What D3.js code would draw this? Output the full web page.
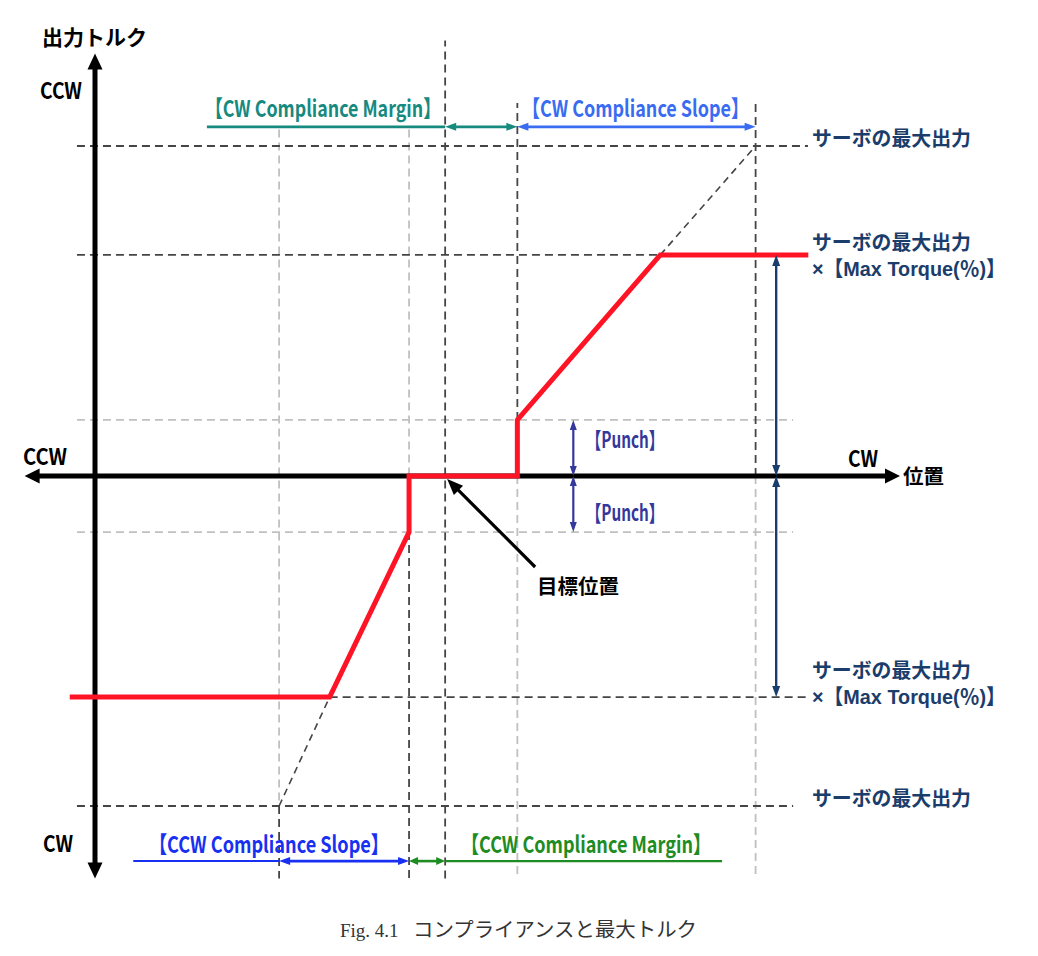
<!DOCTYPE html>
<html><head><meta charset="utf-8">
<script src="https://cdn.jsdelivr.net/npm/d3@7"></script>
<style>
body{margin:0;background:#fff}
svg{display:block}
text{font-family:'Noto Sans CJK JP','Noto Sans',sans-serif}
</style>
</head><body>
<svg id="c" width="1038" height="956"></svg>
<script>
// ---------- data (position units, torque in % of servo max output) ----------
const positionNames  = ["ccwSlopeEnd", "ccwMargin", "target", "cwMargin", "cwSlopeEnd"];
const positionValues = [-46, -10, 0, 20, 86];
const torqueNames  = ["-max", "-maxTorque", "-punch", "zero", "punch", "maxTorque", "max"];
const torqueValues = [-100, -67, -17, 0, 17, 67, 100];
// red output-torque curve
const outputPos    = [-104, -32, -10, -10, 20, 20, 59.6, 100.6];
const outputTorque = [-67, -67, -17, 0, 0, 17, 67, 67];
// slope extension (dashed diagonal)
const slopeGuidePos    = [[-46, -32], [59.6, 86]];
const slopeGuideTorque = [[-100, -67], [67, 100]];
// horizontal guide lines
const darkHTorque = [100, 67, -67, -100];
const darkHFrom   = [-102, -102, -32, -102];
const darkHTo     = [100.5, 59.6, 100.6, 96.4];
const lightHTorque = [17, -17];
const lightHFrom   = [-102, -102];
const lightHTo     = [96.4, 96.4];
// vertical guide lines
const darkVPos  = [-46, -10, 0, 20, 86];
const darkVFrom = [-100, -17, -122, 17, 0];
const darkVTo   = [-122, -122, 132, 113, 113];
const lightVPos  = [-46, -10, 20, 86];
const lightVFrom = [105, 105, 0, 0];
const lightVTo   = [-100, 0, -122, -122];
// labels
const axisTitle = "出力トルク";
const axisLabelX = "位置";
const targetLabel = "目標位置";
const servoMaxLabel = "サーボの最大出力";
const maxTorqueLabel = "×【Max Torque(％)】";
const punchLabel = "【Punch】";
const spanLabels = ["【CW Compliance Margin】", "【CW Compliance Slope】", "【CCW Compliance Slope】", "【CCW Compliance Margin】"];
const captionFig = "Fig. 4.1";
const captionText = "コンプライアンスと最大トルク";

// ---------- scales ----------
const x = d3.scaleLinear().domain([-97, 126]).range([95, 900]);
const y = d3.scaleLinear().domain([-100, 100]).range([806, 146]);
const P = n => positionValues[positionNames.indexOf(n)];
const T = n => torqueValues[torqueNames.indexOf(n)];

const svg = d3.select("#c");
const g = svg.append("g");

const DARK = "#454545", LIGHT = "#c0c0c0", DASH = "8,5";

function hline(t, a, b, color) {
  g.append("line").attr("x1", x(a)).attr("x2", x(b)).attr("y1", y(t)).attr("y2", y(t))
    .attr("stroke", color).attr("stroke-width", 1.8).attr("stroke-dasharray", DASH);
}
function vline(p, a, b, color) {
  g.append("line").attr("x1", x(p)).attr("x2", x(p)).attr("y1", y(a)).attr("y2", y(b))
    .attr("stroke", color).attr("stroke-width", 1.8).attr("stroke-dasharray", DASH);
}
lightHTorque.forEach((t, i) => hline(t, lightHFrom[i], lightHTo[i], LIGHT));
lightVPos.forEach((p, i) => vline(p, lightVFrom[i], lightVTo[i], LIGHT));
darkHTorque.forEach((t, i) => hline(t, darkHFrom[i], darkHTo[i], DARK));
darkVPos.forEach((p, i) => vline(p, darkVFrom[i], darkVTo[i], DARK));

// slope extension
slopeGuidePos.forEach((ps, i) => {
  g.append("line").attr("x1", x(ps[0])).attr("x2", x(ps[1]))
    .attr("y1", y(slopeGuideTorque[i][0])).attr("y2", y(slopeGuideTorque[i][1]))
    .attr("stroke", DARK).attr("stroke-width", 1.6).attr("stroke-dasharray", "7,5");
});

// arrow helper
function arrowLine(p1, p2, o) {
  const dx = p2[0] - p1[0], dy = p2[1] - p1[1], L = Math.hypot(dx, dy), ux = dx / L, uy = dy / L;
  const s = o.start ? o.hl * 0.7 : 0, e = o.end ? o.hl * 0.7 : 0;
  g.append("line").attr("x1", p1[0] + ux * s).attr("y1", p1[1] + uy * s)
    .attr("x2", p2[0] - ux * e).attr("y2", p2[1] - uy * e)
    .attr("stroke", o.color).attr("stroke-width", o.w);
  const head = (tip, ax, ay) => {
    const bx = tip[0] - ax * o.hl, by = tip[1] - ay * o.hl, px = -ay * o.hw / 2, py = ax * o.hw / 2;
    g.append("path").attr("d", `M${tip[0]},${tip[1]}L${bx + px},${by + py}L${bx - px},${by - py}Z`).attr("fill", o.color);
  };
  if (o.end) head(p2, ux, uy);
  if (o.start) head(p1, -ux, -uy);
}

// axes
arrowLine([x(-97), y(-122)], [x(-97), y(128)], {color: "#000", w: 5, hl: 16, hw: 15, start: true, end: true});
arrowLine([x(-116.5), y(0)], [x(126), y(0)], {color: "#000", w: 5, hl: 15, hw: 15, start: true, end: true});

// red output curve
const line = d3.line().x((d, i) => x(outputPos[i])).y((d, i) => y(outputTorque[i]));
g.append("path").attr("d", line(outputPos)).attr("fill", "none")
  .attr("stroke", "#ff1426").attr("stroke-width", 5).attr("stroke-linejoin", "miter");

// compliance span annotations
const topY = y(105.8), botY = y(-116.7);
const TEAL = "#178a80", LBLUE = "#3a6cf2", BLUE = "#1830f2", GREEN = "#1e8c22";
g.append("line").attr("x1", x(-66)).attr("x2", x(P("target"))).attr("y1", topY).attr("y2", topY).attr("stroke", TEAL).attr("stroke-width", 2.6);
arrowLine([x(P("target")), topY], [x(P("cwMargin")), topY], {color: TEAL, w: 2.6, hl: 11, hw: 8, start: true, end: true});
arrowLine([x(P("cwMargin")), topY], [x(P("cwSlopeEnd")), topY], {color: LBLUE, w: 2.6, hl: 11, hw: 8, start: true, end: true});
g.append("line").attr("x1", x(-86.4)).attr("x2", x(P("ccwSlopeEnd"))).attr("y1", botY).attr("y2", botY).attr("stroke", BLUE).attr("stroke-width", 2);
arrowLine([x(P("ccwSlopeEnd")), botY], [x(P("ccwMargin")), botY], {color: BLUE, w: 2.6, hl: 11, hw: 8, start: true, end: true});
arrowLine([x(P("ccwMargin")), botY], [x(P("target")), botY], {color: GREEN, w: 2.6, hl: 9, hw: 8, start: true, end: true});
g.append("line").attr("x1", x(P("target"))).attr("x2", x(76.7)).attr("y1", botY).attr("y2", botY).attr("stroke", GREEN).attr("stroke-width", 2.4);

// max torque arrows (navy) and punch arrows (indigo)
const NAVY = "#1b3d6b", INDIGO = "#34379c";
arrowLine([x(91.7), y(0)], [x(91.7), y(T("maxTorque"))], {color: NAVY, w: 2.4, hl: 11, hw: 8, start: true, end: true});
arrowLine([x(91.7), y(0)], [x(91.7), y(T("-maxTorque"))], {color: NAVY, w: 2.4, hl: 11, hw: 8, start: true, end: true});
arrowLine([x(35.5), y(0)], [x(35.5), y(T("punch"))], {color: INDIGO, w: 2.2, hl: 10, hw: 7, start: true, end: true});
arrowLine([x(35.5), y(0)], [x(35.5), y(T("-punch"))], {color: INDIGO, w: 2.2, hl: 10, hw: 7, start: true, end: true});

// target arrow
const tip = [x(P("target")) + 2, y(0) + 3];
arrowLine([tip[0] + 88, tip[1] + 88], tip, {color: "#000", w: 3.2, hl: 16, hw: 13, end: true});

// ---------- text ----------
function txt(s, px, py, o) {
  const t = g.append("text").attr("x", px).attr("y", py).text(s)
    .attr("font-size", o.size).attr("font-weight", o.weight || 700).attr("fill", o.color || "#000");
  if (o.len) t.attr("textLength", o.len).attr("lengthAdjust", "spacingAndGlyphs");
  if (o.family) t.style("font-family", o.family);
  return t;
}
txt(axisTitle, 42, 45, {size: 21});
txt("CCW", 40, 99, {size: 22, len: 42});
txt("CCW", 23, 465, {size: 22, len: 44});
txt("CW", 848, 467, {size: 22, len: 30});
txt(axisLabelX, 903, 484, {size: 20.5});
txt("CW", 43, 852, {size: 22, len: 30});
txt(targetLabel, 537, 594, {size: 20.5});

txt(spanLabels[0], 205, 117, {size: 23, color: TEAL, len: 236});
txt(spanLabels[1], 522, 117, {size: 23, color: LBLUE, len: 227});
txt(spanLabels[2], 149, 853, {size: 23, color: BLUE, len: 240});
txt(spanLabels[3], 461, 853, {size: 23, color: GREEN, len: 250});

txt(punchLabel, 586, 448, {size: 22, color: INDIGO, len: 78});
txt(punchLabel, 586, 521, {size: 22, color: INDIGO, len: 78});

const rx = x(100.5) + 4;
const latinFam = "'Liberation Sans','Noto Sans CJK JP',sans-serif";
txt(servoMaxLabel, rx, 146, {size: 20, color: NAVY, len: 159});
txt(servoMaxLabel, rx, 250, {size: 20, color: NAVY, len: 159});
txt(maxTorqueLabel, rx, 276, {size: 21, color: NAVY, len: 194, family: latinFam});
txt(servoMaxLabel, rx, 678, {size: 20, color: NAVY, len: 159});
txt(maxTorqueLabel, rx, 704, {size: 21, color: NAVY, len: 194, family: latinFam});
txt(servoMaxLabel, rx, 806, {size: 20, color: NAVY, len: 159});

txt(captionFig, 340, 937, {size: 19, weight: 400, color: "#333", family: "'Liberation Serif', serif"});
txt(captionText, 413, 937, {size: 20, weight: 400, color: "#333", len: 284});
</script>
</body></html>
